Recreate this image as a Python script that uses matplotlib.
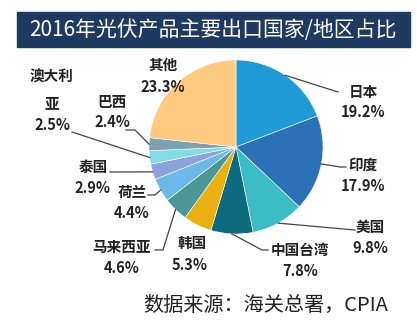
import numpy as np
import matplotlib
matplotlib.use("Agg")
import matplotlib.pyplot as plt
from matplotlib.patches import Rectangle

plt.rcParams['font.family'] = ['Noto Sans CJK SC', 'DejaVu Sans']

# 2016 export share by country/region (%)
regions = ['日本', '印度', '美国', '中国台湾', '韩国', '马来西亚',
           '荷兰', '泰国', '澳大利\n亚', '巴西', '其他']
shares = [19.2, 17.9, 9.8, 7.8, 5.3, 4.6, 4.4, 2.9, 2.5, 2.4, 23.3]
colors = ['#1f9ad6', '#2a71b8', '#3cbdc6', '#0e6a7e', '#e9b00f', '#4b9696',
          '#6cb8e8', '#8ba3d9', '#84dbe8', '#7ea1b2', '#fdca7f']

W, H = 417, 327
def Y(y):
    # pixel rows counted from the top
    return H - y

fig = plt.figure(figsize=(W / 100, H / 100), dpi=100)
ax = fig.add_axes([0, 0, 1, 1])

cx, cy, r = 236, 147, 87
wedges, _ = ax.pie(shares, colors=colors, startangle=90, counterclock=False,
                   center=(cx, Y(cy)), radius=r,
                   wedgeprops=dict(edgecolor='white', linewidth=0.4))
ax.set_aspect('auto')
ax.set_xlim(0, W)
ax.set_ylim(0, H)
ax.axis('off')

# title bar
ax.add_patch(Rectangle((17, Y(47)), 393, 35, color='#1e3a60', zorder=3))
ax.text(213, Y(30), '2016年光伏产品主要出口国家/地区占比', color='white',
        fontsize=15, ha='center', va='center', zorder=4)

# label placement: (name x, name y, pct x, pct y, leader path after the wedge edge)
layout = {
    '日本': (363, 92, 363, 112, [(338, 92)]),
    '印度': (363, 165, 363, 186, [(340, 167), (346, 167)]),
    '美国': (370, 227, 370, 248, [(355, 230)]),
    '中国台湾': (300, 250, 300, 271, [(262, 250), (268, 250)]),
    '韩国': (192, 243, 190, 265, None),
    '马来西亚': (122, 247, 122, 268, [(163, 250), (155, 250)]),
    '荷兰': (132, 192, 132, 213, [(155, 195), (148, 195)]),
    '泰国': (93, 167, 92, 188, [(110, 172)]),
    '澳大利\n亚': (52, 90, 52, 125, [(72, 132)]),
    '巴西': (112, 102, 112, 122, [(135, 130), (126, 130)]),
    '其他': (163, 65, 163, 87, None),
}

for w, name, val in zip(wedges, regions, shares):
    nx, ny, px, py, path = layout[name]
    ax.text(nx, Y(ny), name, fontsize=10.5, fontweight='bold', color='#222222',
            ha='center', va='center', linespacing=1.75)
    ax.text(px, Y(py), f'{val}%', fontsize=10.5, fontweight='bold',
            color='#222222', ha='center', va='center')
    if path:
        mid = np.deg2rad((w.theta1 + w.theta2) / 2)
        ex = cx + r * np.cos(mid)
        ey = Y(cy) + r * np.sin(mid)
        xs = [ex] + [p[0] for p in path]
        ys = [ey] + [Y(p[1]) for p in path]
        ax.plot(xs, ys, color='#444444', lw=0.9, zorder=1)

ax.text(266, Y(305), '数据来源：海关总署，CPIA', fontsize=14.5, color='#222222',
        ha='center', va='center')

fig.savefig('out.png', dpi=100, facecolor='white')
